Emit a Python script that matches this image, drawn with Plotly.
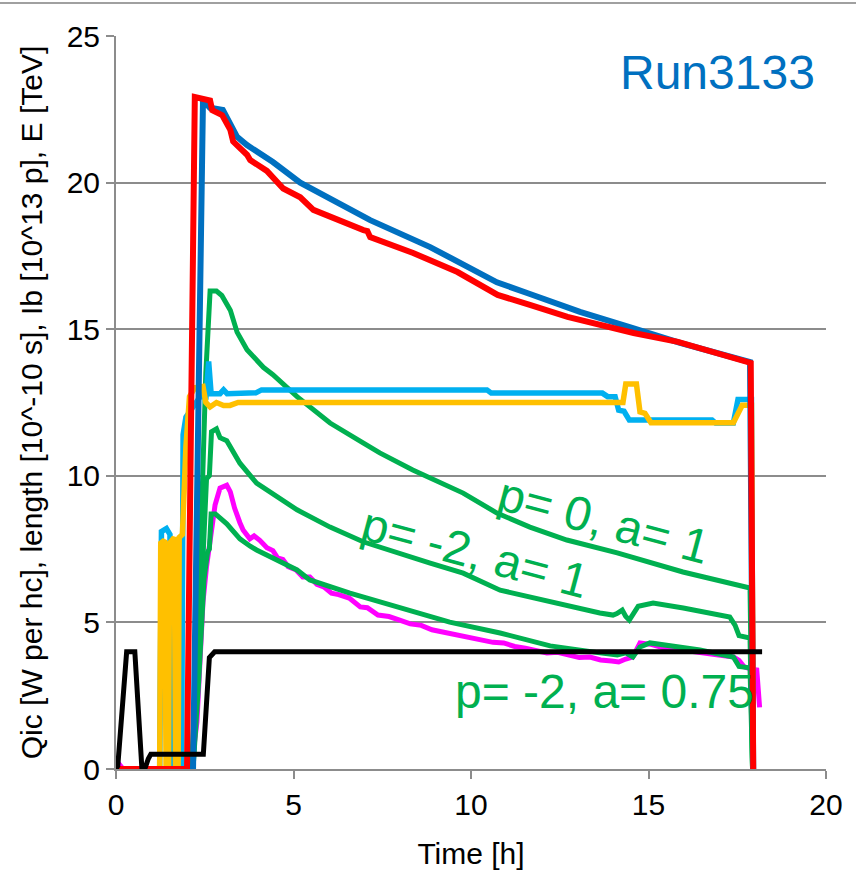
import plotly.graph_objects as go

# ---------------- data ----------------
black_t = [0, 0.05, 0.3, 0.53, 0.73, 0.81, 0.91, 0.98, 1.04, 2.46, 2.63, 2.78, 18.2]
black_v = [0, 0.1, 4.0, 4.0, 0.0, 0.0, 0.35, 0.5, 0.5, 0.5, 3.8, 4.0, 4.0]

ib1_t = [0, 2.17, 2.45, 2.65, 3.01, 3.41, 3.69, 4.42, 5.19, 6.03, 7.16, 8.85, 9.69,
         10.73, 11.66, 13.07, 14.56, 15.89, 17.86, 17.95]
ib1_v = [0, 0, 22.8, 22.55, 22.48, 21.56, 21.28, 20.7, 20.0, 19.45, 18.72, 17.8, 17.26,
         16.6, 16.2, 15.59, 15.04, 14.53, 13.88, 0]

ib2_t = [0, 2.0, 2.22, 2.65, 2.71, 2.99, 3.22, 3.3, 3.69, 3.78, 4.25, 4.71, 5.19, 5.56,
         6.97, 7.08, 7.16, 8.37, 9.62, 10.75, 11.68, 12.72, 14.58, 15.83, 17.88, 17.95]
ib2_v = [0, 0, 22.92, 22.8, 22.47, 22.3, 21.8, 21.4, 20.95, 20.77, 20.4, 19.8, 19.5, 19.07,
         18.38, 18.35, 18.14, 17.6, 16.95, 16.17, 15.82, 15.42, 14.87, 14.57, 13.85, 0]

len1_t = [0, 1.23, 1.28, 1.42, 1.52, 1.57, 1.85, 1.89, 1.97, 2.22, 2.43, 2.53, 2.61, 2.68,
          2.93, 3.03, 3.13, 3.94, 4.1, 10.45, 10.57, 13.7, 13.85, 14.06, 14.16, 14.31, 14.46,
          16.79, 16.89, 17.39, 17.52, 17.9, 17.95]
len1_v = [0, 0, 8.1, 8.2, 8.0, 0, 0, 11.4, 12.0, 12.4, 12.8, 12.6, 13.9, 12.8,
          12.8, 12.93, 12.8, 12.83, 12.93, 12.93, 12.82, 12.82, 12.7, 12.7, 12.24, 12.2, 11.9,
          11.9, 11.8, 11.8, 12.6, 12.6, 0]

len2_t = [0, 1.23, 1.26, 1.37, 1.41, 1.48, 1.51, 1.64, 1.68, 1.75, 1.78, 1.87, 1.97, 2.07,
          2.22, 2.45, 2.53, 2.65, 2.83, 3.03, 3.21, 3.44, 14.28, 14.36, 14.66, 14.76, 14.9, 15.07,
          17.39, 17.64, 17.9, 17.95]
len2_v = [0, 0, 7.7, 7.8, 0, 0, 7.7, 7.9, 0, 0, 7.9, 8.0, 11.0, 12.7,
          13.0, 13.05, 12.5, 12.35, 12.5, 12.4, 12.4, 12.5, 12.5, 13.13, 13.13, 12.18, 12.13, 11.81,
          11.81, 12.41, 12.41, 0]

g0_t = [0, 2.12, 2.28, 2.43, 2.53, 2.65, 2.83, 2.98, 3.22, 3.41, 3.69, 4.15, 4.42, 5.1, 6.03,
        6.96, 7.43, 8.36, 9.78, 10.73, 11.66, 12.7, 14.12, 15.97, 17.86, 17.93]
g0_v = [0, 0, 3.5, 9.5, 13.5, 16.3, 16.3, 16.15, 15.65, 14.9, 14.3, 13.7, 13.45, 12.7, 11.8,
        11.12, 10.78, 10.2, 9.41, 8.73, 8.25, 7.81, 7.37, 6.72, 6.17, 0]

g1_t = [0, 2.17, 2.33, 2.48, 2.55, 2.63, 2.69, 2.83, 2.93, 3.12, 3.49, 3.96, 5.1, 6.03, 6.96,
        8.85, 9.78, 10.82, 12.23, 13.63, 14.0, 14.11, 14.26, 14.36, 14.46, 14.61, 14.71, 15.13,
        15.98, 17.29, 17.44, 17.55, 17.86, 17.93]
g1_v = [0, 0, 4.0, 8.5, 9.9, 10.0, 11.5, 11.6, 11.3, 11.2, 10.43, 9.75, 8.84, 8.25, 7.75,
        7.02, 6.68, 6.1, 5.7, 5.32, 5.25, 5.3, 5.42, 5.2, 5.08, 5.4, 5.55, 5.66,
        5.49, 5.18, 4.9, 4.55, 4.47, 0]

g2_t = [0, 2.17, 2.33, 2.48, 2.58, 2.63, 2.68, 2.8, 3.12, 3.49, 3.78, 3.96, 5.1, 5.46, 6.59,
        9.4, 10.82, 12.23, 13.63, 14.12, 14.36, 14.56, 14.76, 15.04, 16.45, 17.39, 17.55, 17.86, 17.93]
g2_v = [0, 0, 3.0, 6.5, 7.4, 7.5, 8.7, 8.7, 8.36, 7.85, 7.6, 7.47, 6.79, 6.45, 6.0,
        5.01, 4.64, 4.2, 3.96, 3.89, 3.96, 3.82, 4.16, 4.3, 4.06, 3.82, 3.5, 3.45, 0]

qic_t = [0, 0.1, 0.2, 1.92, 2.07, 2.17, 2.28, 2.38, 2.45, 2.55, 2.65, 2.79, 2.93, 3.12, 3.22,
         3.34, 3.49, 3.58, 3.77, 3.89, 4.05, 4.25, 4.42, 4.55, 4.7, 4.85, 5.06, 5.26, 5.46, 5.66,
         5.87, 6.07, 6.27, 6.57, 6.88, 7.08, 7.38, 7.69, 7.99, 8.29, 8.6, 8.9, 9.1, 9.41, 9.71,
         10.01, 10.32, 10.62, 10.92, 11.23, 11.53, 11.83, 12.14, 12.44, 12.74, 13.05, 13.35,
         13.65, 13.96, 14.16, 14.36, 14.56, 14.76, 15.07, 15.37, 15.68, 15.98, 16.28, 16.59,
         16.89, 17.19, 17.39, 17.55, 17.7, 17.9, 18.05, 18.13]
qic_v = [0.1, 0.15, 0, 0, 0.1, 0.5, 1.6, 3.8, 5.7, 6.9, 7.7, 9.0, 9.58, 9.68, 9.45,
         8.9, 8.4, 8.15, 7.85, 7.95, 7.8, 7.55, 7.45, 7.2, 7.15, 6.9, 6.8, 6.55, 6.55, 6.3,
         6.2, 6.0, 5.95, 5.83, 5.53, 5.5, 5.25, 5.2, 5.08, 4.95, 4.9, 4.75, 4.7, 4.62, 4.55,
         4.45, 4.4, 4.32, 4.3, 4.18, 4.12, 4.05, 3.96, 3.98, 3.88, 3.8, 3.82,
         3.72, 3.68, 3.65, 3.75, 3.82, 4.3, 4.25, 4.15, 4.1, 4.05, 4.0, 3.95,
         3.9, 3.85, 3.82, 3.7, 3.48, 3.4, 3.38, 2.1]

x_ticks = [0, 5, 10, 15, 20]
y_ticks = [0, 5, 10, 15, 20, 25]

labels = [
    ("Run3133", 16.95, 23.74, 0, "#0070C0"),
    ("p= 0, a= 1", 13.75, 8.49, 15, "#00B050"),
    ("p= -2, a= 1", 10.1, 7.37, 15, "#00B050"),
    ("p= -2, a= 0.75", 13.75, 2.63, 0, "#00B050"),
]

# ---------------- figure ----------------
FONT = "Liberation Sans Narrow, Liberation Sans, Arial, sans-serif"
fig = go.Figure()

def add(t, v, color, width):
    fig.add_trace(go.Scatter(x=t, y=v, mode="lines",
                             line=dict(color=color, width=width),
                             showlegend=False, hoverinfo="skip"))

add(qic_t, qic_v, "#FF00FF", 5)
add(g2_t, g2_v, "#00B050", 5)
add(g1_t, g1_v, "#00B050", 5)
add(g0_t, g0_v, "#00B050", 5)
add(len1_t, len1_v, "#00B0F0", 5.5)
add(len2_t, len2_v, "#FFC000", 5.5)
add(ib1_t, ib1_v, "#0070C0", 6)
add(ib2_t, ib2_v, "#FF0000", 6)
add(black_t, black_v, "#000000", 5)

for txt, x, y, ang, col in labels:
    fig.add_annotation(x=x, y=y, text=txt, showarrow=False, textangle=ang,
                       font=dict(family="Liberation Sans, Arial, sans-serif", size=48, color=col),
                       xanchor="center", yanchor="middle")

fig.add_shape(type="line", xref="paper", yref="paper", x0=-0.17, x1=1.05, y0=1.045, y1=1.045,
              line=dict(color="#A0A0A0", width=2))

fig.update_layout(
    width=856, height=873,
    margin=dict(l=116, r=30, t=36, b=104),
    paper_bgcolor="white", plot_bgcolor="white",
    font=dict(family=FONT, size=28, color="black"),
)
fig.update_xaxes(range=[0, 20], tickvals=x_ticks, showgrid=False, zeroline=False,
                 showline=True, linecolor="#8C8C8C", linewidth=2, automargin=False,
                 ticks="outside", ticklen=8, tickcolor="#8C8C8C", tickwidth=2,
                 title=dict(text="Time [h]", font=dict(size=30), standoff=23),
                 tickfont=dict(size=30))
fig.update_yaxes(range=[0, 25], tickvals=y_ticks, showgrid=True, gridcolor="#8C8C8C", gridwidth=2,
                 zeroline=False, showline=True, linecolor="#8C8C8C", linewidth=2, automargin=False,
                 ticks="outside", ticklen=8, tickcolor="#8C8C8C", tickwidth=2,
                 title=dict(text="Qic [W per hc], length [10^-10 s], Ib [10^13 p], E [TeV]",
                            font=dict(size=30), standoff=15),
                 tickfont=dict(size=30))

fig.write_html("out.html")
